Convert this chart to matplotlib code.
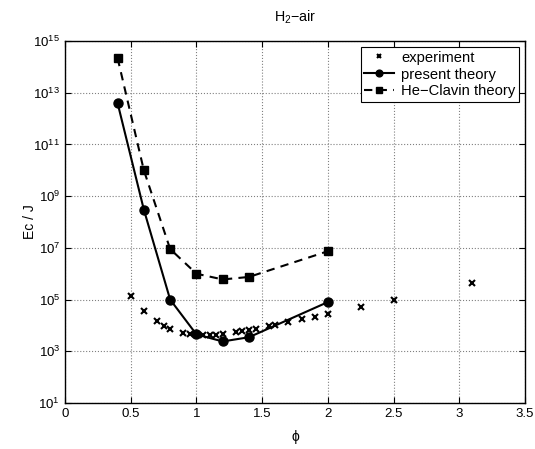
import numpy as np
import matplotlib
matplotlib.use("Agg")
from matplotlib import pyplot as plt

plt.rcParams['font.family'] = ['Liberation Sans', 'DejaVu Sans']
plt.rcParams['mathtext.fontset'] = 'custom'
plt.rcParams['mathtext.rm'] = 'Liberation Sans'
plt.rcParams['mathtext.it'] = 'Liberation Sans'
plt.rcParams['mathtext.default'] = 'regular'

# experimental data
phi_exp = [0.5, 0.6, 0.7, 0.75, 0.8, 0.9, 0.95, 1.0, 1.05, 1.1, 1.15, 1.2,
           1.3, 1.35, 1.4, 1.45, 1.55, 1.6, 1.7, 1.8, 1.9, 2.0, 2.25, 2.5, 3.1]
ec_exp = [1.4e5, 3.6e4, 1.45e4, 9.8e3, 7.3e3, 5.0e3, 4.6e3, 4.5e3, 4.3e3, 4.3e3, 4.3e3, 4.6e3,
          5.4e3, 6.1e3, 6.6e3, 7.5e3, 9.5e3, 1.07e4, 1.4e4, 1.7e4, 2.2e4, 2.8e4, 5.3e4, 1.0e5, 4.5e5]

# theories
phi_th = [0.4, 0.6, 0.8, 1.0, 1.2, 1.4, 2.0]
ec_present = [4e12, 3e8, 1e5, 4.5e3, 2.4e3, 3.5e3, 8e4]
ec_heclavin = [2.2e14, 1e10, 9e6, 1e6, 6e5, 7.5e5, 7.4e6]

fig = plt.figure(figsize=(5.35, 4.49), dpi=100)
ax = fig.add_axes([65/535, 1 - 403/449, 460/535, 362/449])

ax.semilogy(phi_exp, ec_exp, 'kx', markersize=4, markeredgewidth=1.5, label='experiment')
ax.semilogy(phi_th, ec_present, 'k-o', linewidth=1.5, markersize=6.5, label='present theory')
ax.semilogy(phi_th, ec_heclavin, 'k--s', linewidth=1.5, markersize=6, dashes=(4, 3),
            label='He\u2212Clavin theory')

ax.set_xlim(0, 3.5)
ax.set_ylim(1e1, 1e15)
ax.set_yticks([1e1, 1e3, 1e5, 1e7, 1e9, 1e11, 1e13, 1e15])
ax.yaxis.set_minor_locator(matplotlib.ticker.NullLocator())
ax.set_xticks(np.arange(0, 3.51, 0.5))
ax.set_xticklabels(['0', '0.5', '1', '1.5', '2', '2.5', '3', '3.5'])
ax.grid(True, which='major', linestyle=':', color='gray', linewidth=0.8)
ax.tick_params(direction='in', top=True, right=True, labelsize=9.5, length=4)
for s in ax.spines.values():
    s.set_linewidth(1.0)

ax.set_title('H$_2$\u2212air', fontsize=10.3, pad=14)
ax.set_xlabel('\u03d5', fontsize=10, labelpad=7.5)
ax.set_ylabel('Ec / J', fontsize=10, labelpad=-2.5)

leg = ax.legend(loc='upper right', fontsize=10.6, fancybox=False, edgecolor='black',
                framealpha=1, handlelength=2.0, borderaxespad=0.4, labelspacing=0.2,
                borderpad=0.25, markerscale=0.75, handletextpad=0.5)
leg.get_frame().set_linewidth(0.8)

fig.savefig('out.png', dpi=100)
